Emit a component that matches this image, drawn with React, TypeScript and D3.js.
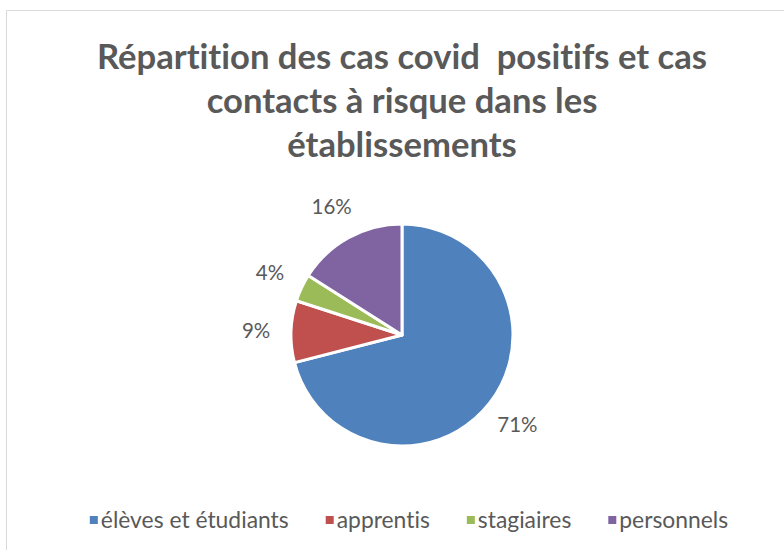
import React, { useEffect, useRef } from "react";
import * as d3 from "d3";

const categories = ["élèves et étudiants", "apprentis", "stagiaires", "personnels"];
const values = [71, 9, 4, 16];
const labels = ["71%", "9%", "4%", "16%"];
const colors = ["#4F81BD", "#C0504D", "#9BBB59", "#8064A2"];
const titleLines = [
  "Répartition des cas covid  positifs et cas",
  "contacts à risque dans les",
  "établissements",
];

const W = 784;
const H = 550;
const FONT = "Lato, 'Open Sans', sans-serif";
const TEXT = "#595959";

export default function App() {
  const ref = useRef<SVGSVGElement>(null);

  useEffect(() => {
    const svg = d3.select(ref.current);
    svg.selectAll("*").remove();

    const cx = 402;
    const cy = 335;
    const r = 111;

    // border
    svg.append("path")
      .attr("d", `M6.5,${H} L6.5,10.5 L${W},10.5`)
      .attr("fill", "none")
      .attr("stroke", "#d9d9d9")
      .attr("stroke-width", 1);

    // title
    const title = svg.append("g");
    const tl = title.selectAll("text").data(titleLines).join("text")
      .attr("x", cx)
      .attr("y", (_, i) => 69 + i * 44)
      .attr("text-anchor", "middle")
      .attr("font-family", FONT)
      .attr("font-weight", "bold")
      .attr("font-size", 34)
      .attr("fill", TEXT)
      .style("white-space", "pre")
      .style("font-variant-ligatures", "none")
      .text(d => d);
    const n0 = (tl.nodes()[0] as SVGTextElement).getComputedTextLength();
    tl.attr("font-size", 34 * 610 / n0);

    // pie
    const pie = d3.pie<number>().sort(null).value(d => d);
    const arcs = pie(values);
    const arc = d3.arc<d3.PieArcDatum<number>>().innerRadius(0).outerRadius(r);
    const labelArc = d3.arc<d3.PieArcDatum<number>>().innerRadius(146).outerRadius(146);
    const g = svg.append("g").attr("transform", `translate(${cx},${cy})`);
    g.selectAll("path").data(arcs).join("path")
      .attr("d", arc)
      .attr("fill", (_, i) => colors[i])
      .attr("stroke", "#fff")
      .attr("stroke-width", 3)
      .attr("stroke-linejoin", "round");
    g.selectAll("text").data(arcs).join("text")
      .attr("transform", d => `translate(${labelArc.centroid(d)})`)
      .attr("text-anchor", "middle")
      .attr("dy", "0.36em")
      .attr("font-family", FONT)
      .attr("font-size", 20.5)
      .attr("fill", TEXT)
      .text((_, i) => labels[i]);

    // legend
    const leg = svg.append("g");
    const ly = 520;
    const items = leg.selectAll("g").data(categories).join("g");
    items.append("rect")
      .attr("width", 8).attr("height", 8)
      .attr("y", ly - 4)
      .attr("fill", (_, i) => colors[i]);
    const lt = items.append("text")
      .attr("y", ly)
      .attr("dy", "0.36em")
      .attr("font-family", FONT)
      .attr("font-size", 19)
      .attr("fill", TEXT)
      .style("font-variant-ligatures", "none")
      .text(d => d);
    const w0 = (lt.nodes()[0] as SVGTextElement).getComputedTextLength();
    lt.attr("font-size", 19 * 188 / w0);
    const widths = lt.nodes().map(n => (n as SVGTextElement).getComputedTextLength());
    const sqGap = 11;
    const itemGap = 37;
    const total = d3.sum(widths) + widths.length * sqGap + (widths.length - 1) * itemGap;
    let x = cx + 7 - total / 2;
    items.each(function (_, i) {
      const it = d3.select(this);
      it.select("rect").attr("x", x);
      it.select("text").attr("x", x + sqGap);
      x += sqGap + widths[i] + itemGap;
    });
  }, []);

  return (
    <svg ref={ref} width={W} height={H} style={{ position: "absolute", left: 0, top: 0, background: "#fff" }} />
  );
}
